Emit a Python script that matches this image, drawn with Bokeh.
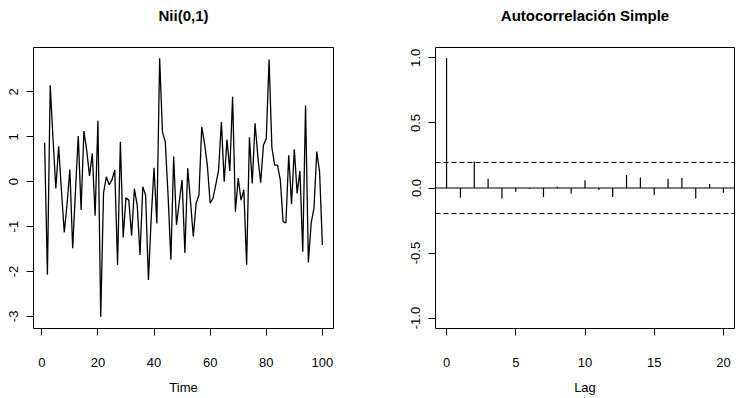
import numpy as np
from bokeh.plotting import figure
from bokeh.layouts import row
from bokeh.models import Range1d, FixedTicker, Span, ColumnDataSource, Title
from bokeh.embed import file_html
from bokeh.resources import INLINE

# ---- data ----
time_idx = list(range(1, 101))
series = [0.87, -2.07, 2.15, 0.95, -0.15, 0.79, -0.2, -1.13, -0.5, 0.27,
          -1.48, -0.2, 1.02, -0.63, 1.13, 0.7, 0.13, 0.63, -0.76, 1.36,
          -3.01, -0.25, 0.11, -0.07, 0.04, 0.26, -1.85, 0.89, -1.24, -0.36,
          -0.41, -1.2, -0.16, -0.52, -1.63, -0.11, -0.3, -2.19, -0.8, 0.31,
          -0.93, 2.75, 1.11, 0.89, -0.3, -1.74, 0.56, -0.96, -0.45, 0.04,
          -1.59, 0.30, -0.45, -1.22, -0.48, -0.3, 1.22, 0.85, 0.37, -0.48,
          -0.37, -0.07, 0.26, 1.33, 0.0, 0.94, 0.24, 1.89, -0.67, 0.08,
          -0.41, -0.18, -1.85, 0.99, -0.04, 1.3, 0.56, -0.02, 0.82, 0.96,
          2.72, 0.76, 0.37, 0.37, 0.04, -0.89, -0.92, 0.59, -0.5, 0.72,
          -0.26, 0.24, -1.56, 1.7, -1.8, -0.92, -0.59, 0.67, 0.22, -1.41]

lags = list(range(0, 21))
acf_vals = [1.0, -0.075, 0.203, 0.072, -0.08, -0.028, -0.005, -0.07, 0.01, -0.044,
            0.059, -0.015, -0.07, 0.10, 0.08, -0.054, 0.072, 0.077, -0.08, 0.031, -0.036]

left_title = "Nii(0,1)"
right_title = "Autocorrelación Simple"
left_yticks = [-3, -2, -1, 0, 1, 2]
left_xticks = [0, 20, 40, 60, 80, 100]
right_yticks = [-1.0, -0.5, 0.0, 0.5, 1.0]
right_xticks = [0, 5, 10, 15, 20]
right_ylabels = ["-1.0", "-0.5", "0.0", "0.5", "1.0"]

FONT = "Liberation Sans"


def style(p, xticks, yticks, xlabels, ylabels, xtitle, title):
    p.grid.visible = False
    p.outline_line_color = "black"
    p.outline_line_width = 1
    p.background_fill_color = "white"
    p.border_fill_color = "white"
    # spacer title (nearest the frame) then the real title above it
    p.add_layout(Title(text=" ", text_font=FONT, text_font_size="14px", standoff=6), "above")
    p.add_layout(Title(text=title, text_font=FONT, text_font_size="15px",
                       text_font_style="bold", text_color="black", align="center",
                       standoff=0), "above")
    for ax in (p.xaxis[0], p.yaxis[0]):
        ax.axis_line_color = None
        ax.major_tick_line_color = "black"
        ax.major_tick_out = 7
        ax.major_tick_in = 0
        ax.minor_tick_line_color = None
        ax.major_label_text_font = FONT
        ax.major_label_text_font_size = "13px"
        ax.major_label_text_color = "black"
        ax.axis_label_text_font = FONT
        ax.axis_label_text_font_size = "13px"
        ax.axis_label_text_font_style = "normal"
        ax.axis_label_text_color = "black"
    p.xaxis[0].ticker = FixedTicker(ticks=xticks)
    p.yaxis[0].ticker = FixedTicker(ticks=yticks)
    p.xaxis[0].major_label_overrides = {float(t): l for t, l in zip(xticks, xlabels)}
    p.yaxis[0].major_label_overrides = {float(t): l for t, l in zip(yticks, ylabels)}
    p.yaxis[0].major_label_orientation = "vertical"
    p.xaxis[0].major_label_standoff = 22
    p.yaxis[0].major_label_standoff = 8
    p.xaxis[0].axis_label = xtitle
    p.xaxis[0].axis_label_standoff = 10


# ---- left: time series ----
p1 = figure(width=372, height=398, output_backend="svg", toolbar_location=None,
            x_range=Range1d(-2.96, 103.96), y_range=Range1d(-3.27, 2.99),
            min_border_left=33, min_border_right=39, min_border_top=47, min_border_bottom=70)
p1.line(time_idx, series, line_color="black", line_width=1.3)
style(p1, left_xticks, left_yticks, [str(t) for t in left_xticks],
      [str(t) for t in left_yticks], "Time", left_title)

# ---- right: ACF ----
p2 = figure(width=372, height=398, output_backend="svg", toolbar_location=None,
            x_range=Range1d(-0.8, 20.8), y_range=Range1d(-1.08, 1.08),
            min_border_left=63, min_border_right=10, min_border_top=47, min_border_bottom=70)
src = ColumnDataSource(dict(lag=lags, acf=acf_vals, zero=[0.0] * len(lags)))
p2.segment(x0="lag", y0="zero", x1="lag", y1="acf", source=src,
           line_color="black", line_width=1.2)
ci = 1.96 / np.sqrt(len(series))
p2.add_layout(Span(location=0, dimension="width", line_color="black", line_width=1.2))
p2.add_layout(Span(location=ci, dimension="width", line_color="black",
                   line_width=1.2, line_dash="5 3"))
p2.add_layout(Span(location=-ci, dimension="width", line_color="black",
                   line_width=1.2, line_dash="5 3"))
style(p2, right_xticks, right_yticks, [str(t) for t in right_xticks],
      right_ylabels, "Lag", right_title)

layout = row(p1, p2)
open("out.html", "w").write(file_html(layout, INLINE))
